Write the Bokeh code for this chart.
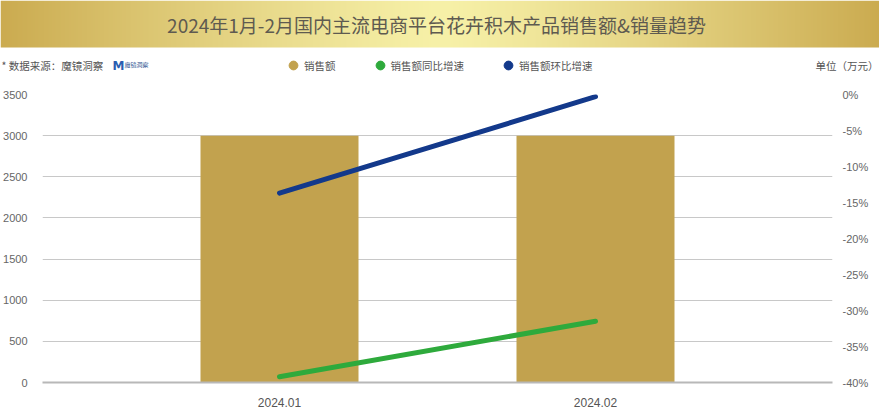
import numpy as np
from bokeh.plotting import figure
from bokeh.models import (FactorRange, Range1d, LinearAxis, FixedTicker,
                          PrintfTickFormatter, Legend, LegendItem, ColumnDataSource)
from bokeh.embed import file_html
from bokeh.resources import INLINE
from bokeh.core.properties import value

# ---------------- data ----------------
months = ["2024.01", "2024.02"]
sales = [3000, 3000]          # 销售额 (万元)
yoy = [-39.2, -31.5]          # 销售额同比增速 (%)
mom = [-13.7, -0.3]           # 销售额环比增速 (%)
left_ticks = [0, 500, 1000, 1500, 2000, 2500, 3000, 3500]
right_ticks = [-40, -35, -30, -25, -20, -15, -10, -5, 0]
series_names = ["销售额", "销售额同比增速", "销售额环比增速"]
series_colors = ["#C2A24E", "#2EAA3C", "#13398B"]
title_text = "2024年1月-2月国内主流电商平台花卉积木产品销售额&销量趋势"
source_text = "* 数据来源：魔镜洞察"
unit_text = "单位（万元）"

W = 879
FONT = "Noto Sans CJK SC"
NUMFONT = "Liberation Sans"

# ---------------- header (title band + legend row) ----------------
HH = 84
BAND = 47
hdr = figure(width=W, height=HH, x_range=Range1d(0, W), y_range=Range1d(0, HH),
             output_backend="svg", toolbar_location=None, tools="",
             x_axis_type=None, y_axis_type=None, min_border=0)
hdr.grid.visible = False
hdr.outline_line_color = None

xs = np.arange(W)
t = np.clip(np.abs(xs - 440) / 440.0, 0, 1)
light = np.array([247, 241, 168], dtype=float)
dark = np.array([203, 171, 80], dtype=float)
cols = light + (dark - light) * (t[:, None] ** 1.2)
img = np.zeros((1, W), dtype=np.uint32)
view = img.view(dtype=np.uint8).reshape((1, W, 4))
view[0, :, 0:3] = cols.astype(np.uint8)
view[0, :, 3] = 255
hdr.image_rgba(image=[img], x=0, y=HH - BAND, dw=W, dh=BAND)

hdr.text(x=[436], y=[HH - 24], text=[title_text], text_font=value(FONT),
         text_font_size="19px", text_color="#5e5a50", text_align="center",
         text_baseline="middle")

ROW = HH - 65
hdr.text(x=[1], y=[ROW], text=[source_text], text_font=value(FONT),
         text_font_size="10.5px", text_color="#555555", text_align="left",
         text_baseline="middle")
hdr.text(x=[112], y=[ROW], text=["M"], text_font=value("DejaVu Sans"),
         text_font_size="12px", text_font_style="bold", text_color="#2a5db0",
         text_align="left", text_baseline="middle")
hdr.text(x=[124], y=[ROW + 1], text=["魔镜洞察"], text_font=value(FONT),
         text_font_size="6px", text_color="#2a4f8f", text_align="left",
         text_baseline="middle")
hdr.text(x=[878], y=[ROW], text=[unit_text], text_font=value(FONT),
         text_font_size="10.5px", text_color="#555555", text_align="right",
         text_baseline="middle")

dummies = [hdr.scatter(x=[-1000], y=[-1000], marker="circle", size=9, color=c)
           for c in series_colors]
legend = Legend(items=[LegendItem(label=n, renderers=[r])
                       for n, r in zip(series_names, dummies)],
                orientation="horizontal", location=(282, ROW - 11),
                glyph_width=22, glyph_height=22, label_height=22,
                label_standoff=-2, spacing=33, padding=0, margin=0,
                label_text_font=FONT, label_text_font_size="10.5px",
                label_text_color="#555555",
                background_fill_alpha=0, border_line_alpha=0)
hdr.add_layout(legend)

# ---------------- main chart ----------------
src = ColumnDataSource(dict(month=months, sales=sales, yoy=yoy, mom=mom))

p = figure(width=W, height=331,
           x_range=FactorRange(*months, range_padding=0.25,
                               range_padding_units="absolute"),
           y_range=Range1d(0, 3500),
           output_backend="svg", toolbar_location=None, tools="",
           min_border_left=41, min_border_right=47,
           min_border_top=10, min_border_bottom=33)
p.extra_y_ranges = {"pct": Range1d(-40, 0)}

p.vbar(x="month", top="sales", width=0.5, source=src,
       fill_color=series_colors[0], line_color=None)
p.line(x="month", y="yoy", source=src, y_range_name="pct",
       line_color=series_colors[1], line_width=5, line_cap="round")
p.line(x="month", y="mom", source=src, y_range_name="pct",
       line_color=series_colors[2], line_width=5, line_cap="round")

ax_r = LinearAxis(y_range_name="pct", ticker=FixedTicker(ticks=right_ticks),
                  formatter=PrintfTickFormatter(format="%d%%"))
p.add_layout(ax_r, "right")

p.yaxis[0].ticker = FixedTicker(ticks=left_ticks)
for ax in p.axis:
    ax.major_tick_line_color = None
    ax.minor_tick_line_color = None
    ax.major_tick_out = 0
    ax.major_tick_in = 0
    ax.minor_tick_out = 0
    ax.minor_tick_in = 0
for ax in p.yaxis:
    ax.axis_line_color = None
    ax.major_label_text_font = NUMFONT
    ax.major_label_text_font_size = "11px"
    ax.major_label_text_color = "#666666"
p.yaxis[0].major_label_standoff = 15
ax_r.major_label_standoff = 10

p.xaxis.axis_line_color = "#b8b8b8"
p.xaxis.axis_line_width = 2
p.xaxis.major_label_text_font = NUMFONT
p.xaxis.major_label_text_font_size = "12px"
p.xaxis.major_label_text_color = "#555555"
p.xaxis.major_label_standoff = 15

p.xgrid.visible = False
p.ygrid.grid_line_color = "#c8c8c8"
p.ygrid.grid_line_width = 1
p.outline_line_color = None

open("out.html", "w").write(file_html([hdr, p], INLINE))
